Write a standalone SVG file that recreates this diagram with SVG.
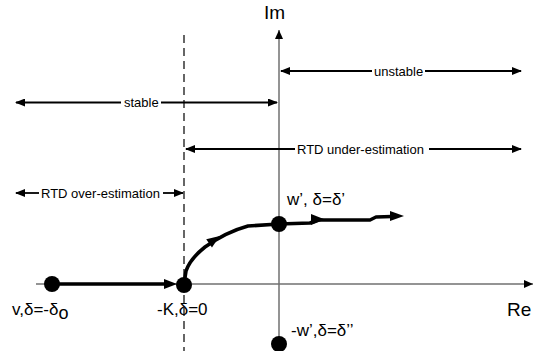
<svg xmlns="http://www.w3.org/2000/svg" width="540" height="351" viewBox="0 0 540 351">
<defs>
<style>
.ax{stroke:#707070;stroke-width:1.5;fill:none}
.dim{stroke:#000;stroke-width:1.8;fill:none}
.thick{stroke:#000;stroke-width:3.6;fill:none;stroke-linejoin:round;stroke-linecap:round}
.lbl{font-family:"Liberation Sans",Arial,sans-serif;font-size:13px;fill:#000}
.big{font-family:"Liberation Sans",Arial,sans-serif;font-size:19px;fill:#000}
.pt{font-family:"Liberation Sans",Arial,sans-serif;font-size:17px;fill:#000}
.dot{fill:#000}
</style>
<marker id="ah" markerUnits="userSpaceOnUse" markerWidth="10" markerHeight="8" refX="9" refY="4" orient="auto-start-reverse" viewBox="0 0 10 8">
<path d="M0,0 L10,4 L0,8 Z" fill="#000"/>
</marker>
<marker id="axh" markerUnits="userSpaceOnUse" markerWidth="9" markerHeight="8" refX="9" refY="4" orient="auto" viewBox="0 0 9 8">
<path d="M0,0 L9,4 L0,8 Z" fill="#000"/>
</marker>
</defs>
<rect width="540" height="351" fill="#fff"/>

<g id="axes">
<line class="ax" x1="279" y1="351" x2="279" y2="30" marker-end="url(#axh)"/>
<line class="ax" x1="36" y1="284" x2="533" y2="284" marker-end="url(#axh)"/>
<line x1="184" y1="35" x2="184" y2="351" stroke="#000" stroke-width="1.2" stroke-dasharray="8,5"/>
<text class="big" x="264" y="19">Im</text>
<text class="big" x="507" y="316">Re</text>
</g>

<g id="connectors">
<line class="dim" x1="16" y1="102.5" x2="121" y2="102.5" marker-start="url(#ah)"/>
<line class="dim" x1="161" y1="102.5" x2="277" y2="102.5" marker-end="url(#ah)"/>
<line class="dim" x1="281" y1="71" x2="372" y2="71" marker-start="url(#ah)"/>
<line class="dim" x1="425" y1="71" x2="521" y2="71" marker-end="url(#ah)"/>
<line class="dim" x1="186" y1="149" x2="295" y2="149" marker-start="url(#ah)"/>
<line class="dim" x1="429" y1="149" x2="521" y2="149" marker-end="url(#ah)"/>
<line class="dim" x1="16" y1="193" x2="39" y2="193" marker-start="url(#ah)"/>
<line class="dim" x1="163" y1="193" x2="183" y2="193" marker-end="url(#ah)"/>

<line class="thick" x1="52" y1="284" x2="168" y2="284"/>
<path d="M164,279 L177,284 L164,289 Z" fill="#000"/>
<path class="thick" d="M184,284 L186,271 Q190,259 205,247 Q226,232 248,226 L279,224"/>
<path d="M-6,-5 L7,0 L-6,5 Z" fill="#000" transform="translate(214,240) rotate(-35)"/>
<path class="thick" d="M279,224 L310,223 L318,220 L370,220 L376,217 L392,216.5"/>
<path d="M311,214 L325,219.5 L311,225 Z" fill="#000"/>
<path d="M390,211 L404,216 L390,221 Z" fill="#000"/>
</g>

<g id="label-stable"><text class="lbl" x="124" y="107">stable</text></g>
<g id="label-unstable"><text class="lbl" x="374" y="75.5">unstable</text></g>
<g id="label-under"><text class="lbl" x="297" y="153.5">RTD under-estimation</text></g>
<g id="label-over"><text class="lbl" x="41" y="197.5">RTD over-estimation</text></g>

<g id="node-v">
<circle class="dot" cx="52" cy="284" r="8"/>
<text class="pt" x="12" y="315">v,δ=-δ<tspan dy="4" font-size="18">o</tspan></text>
</g>
<g id="node-K">
<circle class="dot" cx="184" cy="285" r="8"/>
<text class="pt" x="157" y="315">-K,δ=0</text>
</g>
<g id="node-w">
<circle class="dot" cx="279" cy="224" r="8"/>
<text class="pt" x="287" y="205">w’, δ=δ’</text>
</g>
<g id="node-mw">
<circle class="dot" cx="279" cy="344" r="8"/>
<text class="pt" x="291" y="336">-w’,δ=δ’’</text>
</g>
</svg>
